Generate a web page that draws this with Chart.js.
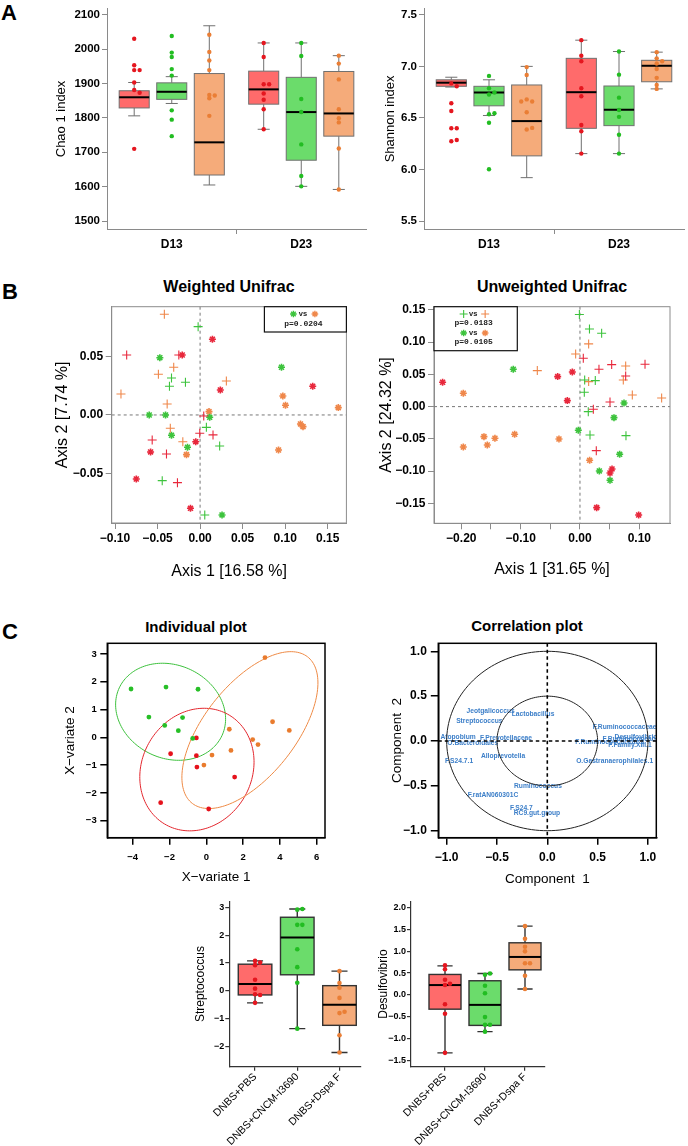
<!DOCTYPE html>
<html><head><meta charset="utf-8">
<script src="https://cdn.jsdelivr.net/npm/chart.js@4.4.1/dist/chart.umd.min.js"></script>
<style>
html,body{margin:0;padding:0;background:#fff}
body{position:relative;width:688px;height:1146px;overflow:hidden;font-family:'Liberation Sans',Arial,Helvetica,sans-serif}
canvas{position:absolute}
.t{position:absolute;transform:translate(-50%,-50%);font-weight:bold;white-space:nowrap;line-height:1;color:#000}
.p{position:absolute;font-weight:bold;font-size:22px;line-height:1;color:#000}
</style></head><body>
<div class="p" style="left:1px;top:2px">A</div>
<div class="p" style="left:2px;top:281px">B</div>
<div class="p" style="left:2px;top:621px">C</div>
<div class="t" style="left:229px;top:287px;font-size:16px">Weighted Unifrac</div>
<div class="t" style="left:552px;top:287px;font-size:16px">Unweighted Unifrac</div>
<div class="t" style="left:196px;top:626px;font-size:15px">Individual plot</div>
<div class="t" style="left:527px;top:625px;font-size:15px">Correlation plot</div>
<canvas id="cA1" width="370" height="262" style="left:0;top:0"></canvas>
<canvas id="cA2" width="344" height="262" style="left:344px;top:0"></canvas>
<canvas id="cB1" width="352" height="305" style="left:0;top:280px"></canvas>
<canvas id="cB2" width="344" height="305" style="left:344px;top:280px"></canvas>
<canvas id="cC1" width="344" height="300" style="left:0;top:600px"></canvas>
<canvas id="cC2" width="344" height="300" style="left:344px;top:600px"></canvas>
<canvas id="cC3" width="200" height="251" style="left:170px;top:895px"></canvas>
<canvas id="cC4" width="200" height="251" style="left:355px;top:895px"></canvas>
<script>
// ---------------- DATA ----------------
const days = ['D13', 'D23'];
const groups = ['DNBS+PBS', 'DNBS+CNCM-I3690', 'DNBS+Dspa F'];
// box stats: [min, q1, median, q3, max] per group
const chaoStatsD13 = [[1806,1829,1860,1879,1903],[1842,1854,1876,1902,1920],[1605,1634,1729,1929,2068]];
const chaoStatsD23 = [[1767,1840,1883,1936,2018],[1601,1677,1817,1918,2018],[1592,1747,1813,1935,1981]];
const chaoPtsD13 = [[2030,1953,1939,1939,1903,1881,1873,1710],[2038,1990,1977,1942,1923,1822,1795,1747],[2042,1992,1967,1939,1867,1865,1857,1806]];
const chaoPtsD23 = [[2018,1977,1898,1898,1871,1853,1825,1767],[2018,1980,1855,1817,1723,1631,1601],[1981,1958,1912,1825,1799,1787,1711,1592]];
const shanStatsD13 = [[6.80,6.807,6.842,6.870,6.895],[6.524,6.618,6.747,6.807,6.870],[5.922,6.133,6.470,6.820,7.0]];
const shanStatsD23 = [[6.155,6.40,6.75,7.078,7.254],[6.155,6.426,6.58,6.81,7.144],[6.782,6.851,7.006,7.059,7.138]];
const shanPtsD13 = [[6.835,6.807,6.643,6.568,6.40,6.40,6.275,6.287],[6.908,6.788,6.728,6.747,6.536,6.546,6.454,6.004],[6.993,6.917,6.68,6.66,6.66,6.555,6.388,6.404]];
const shanPtsD23 = [[7.254,7.103,7.05,6.788,6.71,6.432,6.372,6.155],[7.144,6.92,6.697,6.577,6.511,6.338,6.155],[7.138,7.078,7.05,7.028,6.974,6.889,6.82,6.782]];

// Weighted UniFrac PCoA (+ = D13, * = D23)
const wuCrossRed = [[-0.0863,0.0514],[-0.025,0.0514],[0.0043,-0.0009],[-0.0004,-0.0157],[0.0152,-0.0171],[-0.0563,-0.0214],[-0.0395,-0.0334],[-0.0266,-0.058]];
const wuCrossGreen = [[-0.0023,0.0757],[-0.0336,0.0317],[-0.036,0.0246],[-0.0172,0.028],[0.0074,-0.0106],[0.023,-0.0266],[-0.0445,-0.0563],[0.0055,-0.0857]];
const wuCrossOrange = [[-0.042,0.0863],[-0.031,0.0409],[-0.049,0.0349],[0.0309,0.0291],[-0.093,0.018],[-0.0387,0.0094],[-0.035,-0.0114],[-0.0203,-0.0229]];
const wuStarRed = [[0.0145,0.0649],[-0.021,0.0514],[0.0238,0.0214],[0.1324,0.0246],[-0.0051,-0.0229],[-0.0582,-0.0317],[-0.075,-0.0549],[-0.0113,-0.08]];
const wuStarGreen = [[-0.0473,0.0491],[0.0957,0.0409],[-0.0598,0],[-0.0406,0],[0.0113,-0.002],[-0.0336,-0.0174],[-0.0148,-0.0277],[0.0258,-0.0857]];
const wuStarOrange = [[0.0973,0.0163],[0.1004,0.0083],[0.1625,0.0063],[0.0105,0.0029],[0.118,-0.0077],[0.121,-0.01],[-0.016,-0.034],[0.0922,-0.03]];
// Unweighted UniFrac PCoA
const uuCrossRed = [[0.0056,0.075],[0.032,0.058],[0.0534,0.0652],[0.1096,0.0657],[0.077,0.0476],[0.0506,0.0072],[0.0225,-0.0041],[0.0275,-0.0683]];
const uuCrossGreen = [[-0.001,0.143],[0.016,0.1205],[0.0365,0.1138],[0.0079,0.0414],[0.0258,0.0404],[0.0073,0.0222],[0.014,-0.0078],[0.0169,-0.044],[0.0775,-0.045]];
const uuCrossOrange = [[0.0146,0.0973],[-0.0073,0.0817],[-0.0719,0.0559],[0.077,0.063],[0.073,0.0414],[0.0146,0.0388],[0.0882,0.0181],[0.1376,0.0134]];
const uuStarRed = [[-0.0376,0.0466],[-0.0129,0.0538],[-0.2315,0.0378],[-0.0213,0.0093],[0.054,-0.0967],[0.0506,-0.103],[0.0281,-0.1567],[0.0989,-0.1681]];
const uuStarGreen = [[-0.1124,0.058],[0.0742,0.0057],[0.0573,-0.0171],[-0.0028,-0.0367],[0.0669,-0.074],[0.0326,-0.0998],[0.0506,-0.1143]];
const uuStarOrange = [[-0.1966,0.0207],[-0.1618,-0.0466],[-0.1433,-0.0491],[-0.1101,-0.0429],[-0.0354,-0.0502],[-0.1966,-0.0626],[-0.1562,-0.0595],[0.0163,-0.0833]];
const wuPvals = ['p=0.0204'];
const uuPvals = ['p=0.0183', 'p=0.0105'];

// sPLS-DA individual plot
const indGreen = [[-4.09,1.74],[-2.19,1.81],[-0.45,1.73],[-3.12,0.73],[-1.29,0.71],[-2.26,0.43],[-1.52,0.24],[-0.74,-0.04]];
const indRed = [[-0.54,-0.02],[-1.94,-0.59],[-0.54,-0.66],[-0.51,-1.07],[1.54,-1.43],[-2.48,-2.35],[0.13,-2.58]];
const indOrange = [[3.19,2.87],[3.6,0.56],[4.51,0.25],[1.25,0.29],[2.52,-0.08],[2.81,-0.26],[1.34,-0.47],[0.31,-0.64],[-0.13,-1.0]];
// confidence ellipses: centre + two conjugate semi-axes (data units)
const ellGreen = {cx:-1.94, cy:0.92, ux:2.79, uy:-0.86, vx:-1.07, vy:-1.52};
const ellRed = {cx:-0.51, cy:-1.16, ux:3.1, uy:0.16, vx:0.16, vy:2.2};
const ellOrange = {cx:2.37, cy:0.26, ux:3.2, uy:2.6, vx:1.85, vy:-1.1};

// correlation circle
const corrNames = ['Jeotgalicoccus','Lactobacillus','Streptococcus','F.Ruminococcaceae','Desulfovibrio','Atopobium','F.Prevotellaceae','O.Bacteroidales','F.Ruminococcaceae.1','F.Ruminococcaceae.UCG.014','F.Family.XIII.1','Alloprevotella','F.S24.7.1','O.Gastranaerophilales.1','Ruminococcus','F.ratAN060301C','F.S24.7','RC9.gut.group'];
const corrX = [-0.563,-0.142,-0.675,0.768,0.881,-0.887,-0.41,-0.74,0.623,1.015,0.821,-0.44,-0.877,0.669,-0.093,-0.54,-0.258,-0.103];
const corrY = [0.335,0.294,0.223,0.152,0.041,0.048,0.033,-0.022,-0.017,0.017,-0.05,-0.171,-0.227,-0.227,-0.506,-0.6,-0.751,-0.803];

// bottom boxplots
const strepStats = [[-0.44,-0.155,0.238,0.952,1.07],[-1.369,0.571,1.917,2.643,2.94],[-2.226,-1.25,-0.512,0.179,0.702]];
const strepPts = [[1.07,1.01,0.917,0.393,0.071,-0.131,-0.155,-0.44],[2.917,2.94,2.37,2.37,1.488,0.845,0.286,-1.369],[0.702,0.274,0.107,-0.262,-0.81,-0.762,-1.607,-2.226]];
const desulStats = [[-1.32,-0.324,0.226,0.468,0.664],[-0.837,-0.694,-0.226,0.324,0.49],[0.136,0.573,0.867,1.19,1.569]];
const desulPts = [[0.679,0.588,0.347,0.226,0.256,-0.211,-0.43,-1.32],[0.46,0.49,0.211,0.038,-0.505,-0.679,-0.679,-0.837],[1.569,1.282,1.101,0.995,0.724,0.724,0.437,0.136]];

// ---------------- STYLE ----------------
const FONT = "'Liberation Sans', Arial, Helvetica, sans-serif";
Chart.defaults.font.family = FONT;
Chart.defaults.color = '#000';
const DOT = ['#E5161F', '#22BD22', '#EA7E35'];
const FILL = ['#FF6B6B', '#6BDC6B', '#F5AB7A'];
const PC_R = '#E8283C', PC_G = '#3DC33D', PC_O = '#EF874A';
const MINUS = '\u2212';
const fmt = d => v => (v < 0 ? MINUS : '') + Math.abs(v).toFixed(d);

function dodge(vals, cx, thr, step) {
  const placed = [];
  return vals.map(v => {
    const near = placed.filter(p => Math.abs(p.v - v) < thr).map(p => p.s);
    const s = [0, 1, -1, 2, -2, 3].find(k => !near.includes(k));
    placed.push({v, s});
    return {x: cx + s * step, y: v};
  });
}
const pts = arr => arr.map(([x, y]) => ({x, y}));

function axis(o) {
  return {
    type: 'linear', position: o.pos, min: o.min, max: o.max,
    afterBuildTicks: s => { s.ticks = o.ticks.map(v => ({value: v})); },
    afterFit: s => { if (o.pos === 'left') s.width = o.fit; else s.height = o.fit; },
    ticks: {autoSkip: false, maxRotation: o.rot || 0, minRotation: o.rot || 0, padding: o.pad, color: '#000',
      font: {size: o.size, weight: o.weight || 'bold'}, callback: v => o.fmt(v)},
    grid: {display: true, drawOnChartArea: false, drawTicks: true, tickLength: o.tl, color: o.color,
      tickColor: o.tickColor || o.color, lineWidth: o.bw || 1, tickWidth: o.bw || 1},
    border: {display: true, color: o.color, width: o.bw || 1},
    title: o.title ? {display: true, text: o.title, color: '#000', font: {size: o.tsize, weight: 'normal'},
      padding: {top: o.tpad, bottom: o.tpad}} : {display: false}
  };
}

function ellipsePath(ctx, xs, ys, e) {
  ctx.beginPath();
  for (let i = 0; i <= 160; i++) {
    const t = i / 160 * 2 * Math.PI;
    const px = xs.getPixelForValue(e.cx + e.ux * Math.cos(t) + e.vx * Math.sin(t));
    const py = ys.getPixelForValue(e.cy + e.uy * Math.cos(t) + e.vy * Math.sin(t));
    i ? ctx.lineTo(px, py) : ctx.moveTo(px, py);
  }
  ctx.closePath();
}

function makeDeco(o) {
  return {
    id: 'deco',
    beforeDatasetsDraw(chart) {
      const {ctx, chartArea: a, scales: {x, y}} = chart;
      ctx.save();
      if (o.texts) {
        ctx.save();
        ctx.beginPath(); ctx.rect(a.left, a.top, a.right - a.left, a.bottom - a.top); ctx.clip();
        ctx.fillStyle = o.texts.color; ctx.font = o.texts.font; ctx.textAlign = 'center'; ctx.textBaseline = 'middle';
        o.texts.items.forEach(t => ctx.fillText(t.t, x.getPixelForValue(t.x), y.getPixelForValue(t.y)));
        ctx.restore();
      }
      if (o.circles) {
        ctx.strokeStyle = '#222'; ctx.lineWidth = 1;
        o.circles.forEach(r => { ellipsePath(ctx, x, y, {cx: 0, cy: 0, ux: r, uy: 0, vx: 0, vy: r}); ctx.stroke(); });
      }
      if (o.zero) {
        ctx.strokeStyle = o.zero.color; ctx.lineWidth = o.zero.width; ctx.setLineDash(o.zero.dash);
        const x0 = x.getPixelForValue(0), y0 = y.getPixelForValue(0);
        ctx.beginPath(); ctx.moveTo(x0, a.top); ctx.lineTo(x0, a.bottom); ctx.moveTo(a.left, y0); ctx.lineTo(a.right, y0); ctx.stroke();
        ctx.setLineDash([]);
      }
      if (o.ellipses) {
        ctx.lineWidth = 1;
        o.ellipses.forEach(e => { ctx.strokeStyle = e.color; ellipsePath(ctx, x, y, e); ctx.stroke(); });
      }
      if (o.boxes) {
        const b = o.boxes;
        b.items.forEach(it => {
          const [mn, q1, md, q3, mx] = it.s;
          const P = v => y.getPixelForValue(v);
          const xc = x.getPixelForValue(it.x), xl = x.getPixelForValue(it.x - b.w / 2), xr = x.getPixelForValue(it.x + b.w / 2);
          const cl = x.getPixelForValue(it.x - b.cap / 2), cr = x.getPixelForValue(it.x + b.cap / 2);
          ctx.strokeStyle = b.stroke; ctx.lineWidth = b.lw;
          ctx.beginPath();
          ctx.moveTo(xc, P(mx)); ctx.lineTo(xc, P(q3)); ctx.moveTo(xc, P(q1)); ctx.lineTo(xc, P(mn));
          ctx.moveTo(cl, P(mx)); ctx.lineTo(cr, P(mx)); ctx.moveTo(cl, P(mn)); ctx.lineTo(cr, P(mn));
          ctx.stroke();
          ctx.fillStyle = it.fill;
          ctx.fillRect(xl, P(q3), xr - xl, P(q1) - P(q3));
          ctx.strokeRect(xl, P(q3), xr - xl, P(q1) - P(q3));
          ctx.strokeStyle = '#000'; ctx.lineWidth = b.mw;
          ctx.beginPath(); ctx.moveTo(xl, P(md)); ctx.lineTo(xr, P(md)); ctx.stroke();
        });
      }
      ctx.restore();
    },
    afterDatasetsDraw(chart) {
      const {ctx, chartArea: a} = chart;
      ctx.save();
      if (o.frame) {
        ctx.strokeStyle = o.frame.color; ctx.lineWidth = o.frame.width;
        ctx.strokeRect(a.left, a.top, a.right - a.left, a.bottom - a.top);
      }
      if (o.legend) {
        const L = o.legend;
        const bx = L.align === 'right' ? a.right - L.w : a.left, by = a.top;
        ctx.fillStyle = '#fff'; ctx.fillRect(bx, by, L.w, L.h);
        ctx.strokeStyle = '#111'; ctx.lineWidth = 1.2; ctx.strokeRect(bx, by, L.w, L.h);
        const cx = bx + L.w / 2;
        ctx.textAlign = 'center'; ctx.textBaseline = 'middle';
        L.lines.forEach(ln => {
          const yy = by + ln.dy;
          if (ln.t) {
            ctx.fillStyle = '#222'; ctx.font = "bold 8px 'Liberation Mono', monospace";
            ctx.fillText(ln.t, cx - 2, yy);
          } else {
            const mk = (c, px) => {
              ctx.strokeStyle = c; ctx.fillStyle = c; ctx.lineWidth = ln.m === 'star' ? 1.4 : 1.1;
              Chart.helpers.drawPoint(ctx, {pointStyle: ln.m, radius: ln.m === 'star' ? 3.3 : 4, borderWidth: 1.2, rotation: 0}, px, yy);
            };
            mk(ln.c1, cx - 12);
            ctx.fillStyle = '#222'; ctx.font = "bold 7.5px " + FONT; ctx.fillText('vs', cx - 2.5, yy);
            mk(ln.c2, cx + 9.5);
          }
        });
      }
      ctx.restore();
    }
  };
}

function makeChart(id, pad, xs, ys, datasets, deco) {
  return new Chart(document.getElementById(id), {
    type: 'scatter',
    data: {datasets},
    options: {
      responsive: false, animation: false, events: [],
      layout: {padding: pad},
      plugins: {legend: {display: false}, tooltip: {enabled: false}, title: {display: false}},
      scales: {x: xs, y: ys}
    },
    plugins: [makeDeco(deco)]
  });
}
const dotDS = (data, color, r) => ({data, backgroundColor: color, borderColor: color, borderWidth: 0, pointRadius: r, clip: false});
const mkDS = (data, color, style, r, bw) => ({data, pointStyle: style, backgroundColor: color, borderColor: color, borderWidth: bw, pointRadius: r, clip: false});

// ---------------- PANEL A ----------------
function dayBoxes(statsByDay, ptsByDay, thr, step) {
  const items = [], dots = [[], [], []];
  statsByDay.forEach((stats, d) => stats.forEach((s, g) => {
    const xc = d + 0.5 + (g - 1) * 0.29;
    items.push({x: xc, s, fill: FILL[g]});
    dots[g].push(...dodge(ptsByDay[d][g], xc, thr, step));
  }));
  return {items, dots};
}
const AX = '#8a8a8a';
const dayX = () => axis({pos: 'bottom', min: 0, max: 2, ticks: [0.5, 1, 1.5], fmt: v => v === 0.5 ? days[0] : v === 1.5 ? days[1] : '',
  size: 12, tl: 5, pad: 3.5, color: AX, fit: 33, tickColor: c => (c.tick && c.tick.value === 1) ? AX : 'rgba(0,0,0,0)'});

const chao = dayBoxes([chaoStatsD13, chaoStatsD23], [chaoPtsD13, chaoPtsD23], 9.6, 0.042);
makeChart('cA1', {left: 0, top: 3, right: 4, bottom: 0}, dayX(),
  axis({pos: 'left', min: 1477, max: 2117, ticks: [1500,1600,1700,1800,1900,2000,2100], fmt: fmt(0), size: 11.5, tl: 5, pad: 2,
    color: AX, fit: 107, title: 'Chao 1 index', tsize: 13, tpad: 54}),
  chao.dots.map((d, g) => dotDS(d, DOT[g], 2.2)),
  {boxes: {items: chao.items, w: 0.232, cap: 0.093, stroke: '#707070', lw: 1, mw: 2}});

const shan = dayBoxes([shanStatsD13, shanStatsD23], [shanPtsD13, shanPtsD23], 0.032, 0.042);
makeChart('cA2', {left: 0, top: 3, right: 1, bottom: 0}, dayX(),
  axis({pos: 'left', min: 5.4245, max: 7.557, ticks: [5.5,6,6.5,7,7.5], fmt: fmt(1), size: 11.5, tl: 5, pad: 2,
    color: AX, fit: 80, title: 'Shannon index', tsize: 13, tpad: 39}),
  shan.dots.map((d, g) => dotDS(d, DOT[g], 2.2)),
  {boxes: {items: shan.items, w: 0.232, cap: 0.093, stroke: '#707070', lw: 1, mw: 2}});

// ---------------- PANEL B ----------------
const BX = '#8c8c8c';
const pcoaDS = (cr, cg, co, sr, sg, so) => [
  mkDS(pts(cr), PC_R, 'cross', 4.5, 1.1), mkDS(pts(cg), PC_G, 'cross', 4.5, 1.1), mkDS(pts(co), PC_O, 'cross', 4.5, 1.1),
  mkDS(pts(sr), PC_R, 'star', 3.5, 1.6), mkDS(pts(sg), PC_G, 'star', 3.5, 1.6), mkDS(pts(so), PC_O, 'star', 3.5, 1.6)];

makeChart('cB1', {left: 0, top: 26.7, right: 5, bottom: 0},
  axis({pos: 'bottom', min: -0.1039, max: 0.172, ticks: [-0.1,-0.05,0,0.05,0.1,0.15], fmt: fmt(2), size: 12, tl: 6, pad: 2,
    color: BX, fit: 62, title: 'Axis 1 [16.58 %]', tsize: 16, tpad: 3.7}),
  axis({pos: 'left', min: -0.0926, max: 0.0928, ticks: [-0.05,0,0.05], fmt: fmt(2), size: 12, tl: 6, pad: 2.5,
    color: BX, fit: 111.7, title: 'Axis 2 [7.74 %]', tsize: 16, tpad: 53.4}),
  pcoaDS(wuCrossRed, wuCrossGreen, wuCrossOrange, wuStarRed, wuStarGreen, wuStarOrange),
  {zero: {color: '#777', width: 1, dash: [3, 3]}, frame: {color: BX, width: 1},
   legend: {align: 'right', w: 82, h: 25.3, lines: [{m: 'star', c1: PC_G, c2: PC_O, dy: 7.3}, {t: wuPvals[0], dy: 17.5}]}});

makeChart('cB2', {left: 0, top: 26.7, right: 18, bottom: 0},
  axis({pos: 'bottom', min: -0.246, max: 0.1517, ticks: [-0.2,-0.15,-0.1,-0.05,0,0.05,0.1], size: 12, tl: 6, pad: 2,
    fmt: v => Math.abs(v * 10 - Math.round(v * 10)) < 1e-6 ? fmt(2)(v) : '',
    color: BX, fit: 61.7, title: 'Axis 1 [31.65 %]', tsize: 16, tpad: 5.4}),
  axis({pos: 'left', min: -0.181, max: 0.155, ticks: [-0.15,-0.1,-0.05,0,0.05,0.1,0.15], fmt: fmt(2), size: 12, tl: 6, pad: 2.5,
    color: BX, fit: 90, title: 'Axis 2 [24.32 %]', tsize: 16, tpad: 33.1}),
  pcoaDS(uuCrossRed, uuCrossGreen, uuCrossOrange, uuStarRed, uuStarGreen, uuStarOrange),
  {zero: {color: '#777', width: 1, dash: [3, 3]}, frame: {color: BX, width: 1},
   legend: {align: 'left', w: 83.3, h: 44, lines: [{m: 'cross', c1: PC_G, c2: PC_O, dy: 7.3}, {t: uuPvals[0], dy: 16.2},
     {m: 'star', c1: PC_G, c2: PC_O, dy: 26.3}, {t: uuPvals[1], dy: 35.4}]}});

// ---------------- PANEL C ----------------
makeChart('cC1', {left: 0, top: 43.3, right: 19, bottom: 0},
  axis({pos: 'bottom', min: -5.38, max: 6.45, ticks: [-4,-2,0,2,4,6], fmt: fmt(0), size: 9.5, tl: 7, pad: 7,
    color: '#000', bw: 1.5, fit: 62.3, title: 'X\u2212variate 1', tsize: 13.5, tpad: 14.2}),
  axis({pos: 'left', min: -3.612, max: 3.384, ticks: [-3,-2,-1,0,1,2,3], fmt: fmt(0), size: 9.5, tl: 7, pad: 3.6,
    color: '#000', bw: 1.5, fit: 107.3, title: 'X\u2212variate 2', tsize: 13.5, tpad: 61.9}),
  [dotDS(pts(indGreen), '#27BF27', 2.4), dotDS(pts(indRed), '#E5121C', 2.4), dotDS(pts(indOrange), '#E97B2D', 2.4)],
  {ellipses: [Object.assign({color: '#3CC03C'}, ellGreen), Object.assign({color: '#E3262D'}, ellRed), Object.assign({color: '#EE8A45'}, ellOrange)],
   frame: {color: '#000', width: 1.5}});

makeChart('cC2', {left: 0, top: 43.3, right: 31.7, bottom: 0},
  axis({pos: 'bottom', min: -1.083, max: 1.083, ticks: [-1,-0.5,0,0.5,1], fmt: fmt(1), size: 12, tl: 7, pad: 6,
    color: '#000', bw: 1.5, fit: 62.3, title: 'Component  1', tsize: 13.5, tpad: 12.6}),
  axis({pos: 'left', min: -1.078, max: 1.089, ticks: [-1,-0.5,0,0.5,1], fmt: fmt(1), size: 12, tl: 7.5, pad: 4,
    color: '#000', bw: 1.5, fit: 94.3, title: 'Component  2', tsize: 13.5, tpad: 45.2}),
  [],
  {texts: {color: '#3B7EC8', font: "bold 6.7px " + FONT, items: corrNames.map((t, i) => ({t, x: corrX[i], y: corrY[i]}))},
   circles: [1, 0.5], zero: {color: '#000', width: 1.6, dash: [3.5, 3]}, frame: {color: '#000', width: 1.5}});

function grpBoxes(stats, ptsArr, thr, step) {
  const items = [], dots = [[], [], []];
  stats.forEach((s, g) => { items.push({x: g + 1, s, fill: FILL[g]}); dots[g] = dodge(ptsArr[g], g + 1, thr, step); });
  return {items, dots};
}
const CX = '#333';
const grpX = fit => axis({pos: 'bottom', min: fit.min, max: fit.max, ticks: [1, 2, 3], fmt: v => groups[v - 1] || '',
  size: 10.5, weight: 'normal', rot: 45, tl: 4, pad: 0, color: CX, bw: 1.2, fit: 79.3});

const st = grpBoxes(strepStats, strepPts, 0.09, 0.12);
makeChart('cC3', {left: 0, top: 5, right: 9.4, bottom: 0}, grpX({min: 0.39, max: 3.5}),
  axis({pos: 'left', min: -2.74, max: 3.214, ticks: [-2,-1,0,1,2,3], fmt: fmt(0), size: 9, tl: 4, pad: 1,
    color: CX, bw: 1.2, fit: 59.3, title: 'Streptococcus', tsize: 12, tpad: 23.5}),
  st.dots.map((d, g) => dotDS(d, DOT[g], 2.3)),
  {boxes: {items: st.items, w: 0.795, cap: 0.38, stroke: '#333', lw: 1.4, mw: 2}});

const ds = grpBoxes(desulStats, desulPts, 0.057, 0.125);
makeChart('cC4', {left: 0, top: 5, right: 10, bottom: 0}, grpX({min: 0.15, max: 3.5}),
  axis({pos: 'left', min: -1.636, max: 2.134, ticks: [-1.5,-1,-0.5,0,0.5,1,1.5,2], fmt: fmt(1), size: 9, tl: 4, pad: 1,
    color: CX, bw: 1.2, fit: 56, title: 'Desulfovibrio', tsize: 12, tpad: 21.1}),
  ds.dots.map((d, g) => dotDS(d, DOT[g], 2.3)),
  {boxes: {items: ds.items, w: 0.8, cap: 0.38, stroke: '#333', lw: 1.4, mw: 2}});
</script>
</body></html>
